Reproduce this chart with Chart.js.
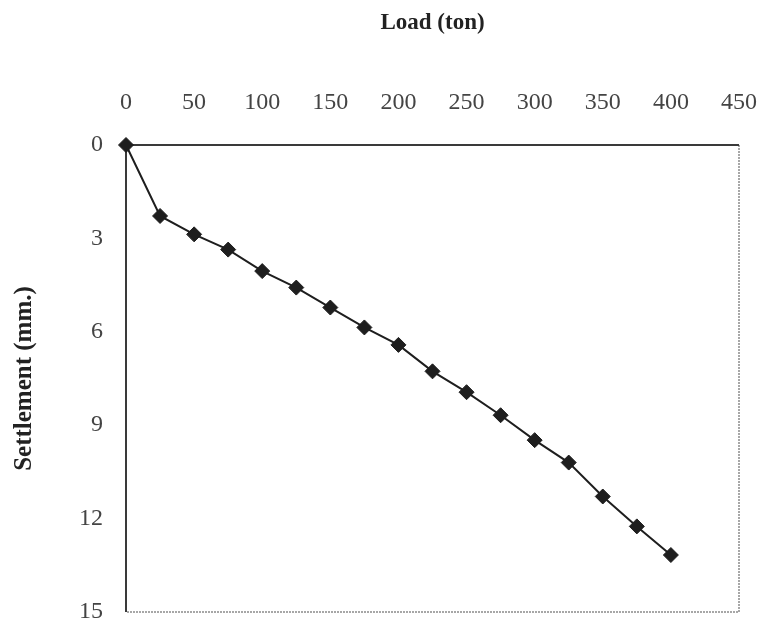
<!DOCTYPE html>
<html>
<head>
<meta charset="utf-8">
<script src="https://cdn.jsdelivr.net/npm/chart.js@4"></script>
<style>
  html, body { margin: 0; padding: 0; background: #fff; }
  #wrap { width: 762px; height: 627px; }
</style>
</head>
<body>
<div id="wrap"><canvas id="settlement-chart"></canvas></div>
<script>
// Load steps (ton) and measured settlement (mm.)
const loads = [0, 25, 50, 75, 100, 125, 150, 175, 200, 225, 250, 275, 300, 325, 350, 375, 400];
const settlements = [0, 2.28, 2.87, 3.36, 4.05, 4.58, 5.22, 5.86, 6.42, 7.27, 7.94, 8.68, 9.48, 10.2, 11.29, 12.25, 13.17];

const loadTicks = [0, 50, 100, 150, 200, 250, 300, 350, 400, 450];
const settlementTicks = [0, 3, 6, 9, 12, 15];

const points = loads.map((x, i) => ({ x: x, y: settlements[i] }));

const serif = "'Liberation Serif', 'DejaVu Serif', serif";

// box around the plot: dark top/left, lighter bottom/right
const frame = {
    id: 'frame',
    beforeDatasetsDraw(chart) {
        const { ctx, chartArea: a } = chart;
        ctx.save();
        ctx.lineWidth = 1.5;
        ctx.strokeStyle = '#8a8a8a';
        ctx.setLineDash([2, 1]);
        ctx.beginPath();
        ctx.moveTo(a.right, a.top);
        ctx.lineTo(a.right, a.bottom);
        ctx.lineTo(a.left, a.bottom);
        ctx.stroke();
        ctx.setLineDash([]);
        ctx.strokeStyle = '#3a3a3a';
        ctx.lineWidth = 2;
        ctx.beginPath();
        ctx.moveTo(a.left, a.bottom);
        ctx.lineTo(a.left, a.top);
        ctx.lineTo(a.right, a.top);
        ctx.stroke();
        ctx.restore();
    }
};

const ctx = document.getElementById('settlement-chart').getContext('2d');
const settlementChart = new Chart(ctx, {
    type: 'scatter',
    data: {
        datasets: [{
            label: 'Settlement',
            data: points,
            showLine: true,
            clip: false,
            borderColor: '#1e1e1e',
            borderWidth: 2,
            backgroundColor: '#1e1e1e',
            pointStyle: 'rectRot',
            pointRadius: 7.5,
            pointBorderWidth: 1
        }]
    },
    options: {
        responsive: true,
        maintainAspectRatio: false,
        animation: false,
        layout: { padding: { left: 0, top: 0, right: 23, bottom: 15 } },
        plugins: {
            legend: { display: false },
            tooltip: { enabled: false }
        },
        scales: {
            x: {
                type: 'linear',
                position: 'top',
                min: 0,
                max: 450,
                afterBuildTicks: s => { s.ticks = loadTicks.map(v => ({ value: v })); },
                afterFit: s => {
                    s.height = 145;
                    s.paddingLeft = 0;
                    s.paddingRight = 0;
                },
                grid: { display: false, drawTicks: false },
                border: { display: false },
                ticks: {
                    padding: 28,
                    color: '#444',
                    font: { family: serif, size: 24 }
                },
                title: {
                    display: true,
                    text: 'Load (ton)',
                    color: '#222',
                    padding: { top: 9, bottom: 0 },
                    font: { family: serif, size: 23, weight: 'bold' }
                }
            },
            y: {
                type: 'linear',
                reverse: true,
                min: 0,
                max: 15,
                afterBuildTicks: s => { s.ticks = settlementTicks.map(v => ({ value: v })); },
                afterFit: s => {
                    s.width = 126;
                    s.paddingTop = 0;
                    s.paddingBottom = 0;
                },
                grid: { display: false, drawTicks: false },
                border: { display: false },
                ticks: {
                    padding: 23,
                    color: '#444',
                    font: { family: serif, size: 24 }
                },
                title: {
                    display: true,
                    text: 'Settlement (mm.)',
                    color: '#222',
                    padding: { top: 10, bottom: 0 },
                    font: { family: serif, size: 25, weight: 'bold' }
                }
            }
        }
    },
    plugins: [frame]
});
</script>
</body>
</html>
